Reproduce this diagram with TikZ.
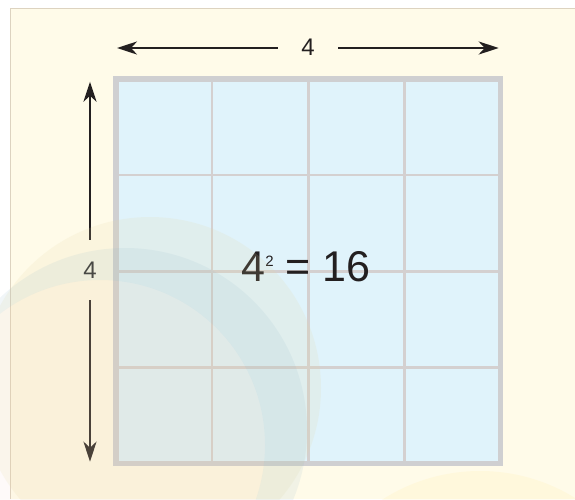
\documentclass[tikz,border=0pt]{standalone}
\usepackage{fontspec}
\setmainfont{Liberation Sans}
\usetikzlibrary{positioning}
\usetikzlibrary{arrows.meta}
\definecolor{cream}{HTML}{FFFBE9}
\definecolor{edge}{HTML}{DDD3C0}
\definecolor{cellblue}{HTML}{E0F3FB}
\definecolor{framegray}{HTML}{CFCFD1}
\definecolor{linegray}{HTML}{D4D0D0}
\definecolor{ink}{HTML}{231F20}
\definecolor{wmyellow}{HTML}{E5D8A0}
\definecolor{wmblue}{HTML}{8FB8CC}
\definecolor{wmpink}{HTML}{F0B8A8}
\definecolor{wmsun}{HTML}{FFE680}

\begin{document}
\begin{tikzpicture}[x=1pt, y=-1pt,
    dimhalf/.style={line width=2.6pt, draw=ink, -{Stealth[length=20pt, width=13pt, inset=6pt]}},
    dimlabel/.style={inner sep=0pt, minimum width=60pt, minimum height=60pt, text=ink, font=\fontsize{24}{28}\selectfont},
    gridline/.style={line width=2.5pt, draw=linegray},
    frame/.style={line width=5.8pt, draw=framegray}]

    \useasboundingbox (0,0) rectangle (575,499);

    % Page background
    \fill[white] (0,0) rectangle (575,499);
    \fill[cream] (10.5,8.5) rectangle (575,499);
    \draw[edge, line width=1.5pt] (10.5,499) -- (10.5,8.5) -- (575,8.5);

    % 4 x 4 square
    \fill[cellblue] (116,79) rectangle (500.5,463.5);
    \foreach \i in {1,2,3} {
        \draw[gridline] ({116+96.125*\i},79) -- ({116+96.125*\i},463.5);
        \draw[gridline] (116,{79+96.125*\i}) -- (500.5,{79+96.125*\i});
    }
    \draw[frame] (116,79) rectangle (500.5,463.5);
    \node[text=ink, anchor=base, font=\fontsize{43}{48}\selectfont] (area) at (306,281.7)
        {4\raisebox{15.5pt}{\fontsize{15}{15}\selectfont 2} = 16};

    % Width arrow
    \node[dimlabel] (top4) at (308,47.5) {4};
    \coordinate (tl) at (117,48);
    \coordinate (tr) at (498.7,48);
    \draw[dimhalf] (top4.west |- tl) -- (tl);
    \draw[dimhalf] (top4.east |- tr) -- (tr);

    % Height arrow
    \node[dimlabel] (left4) at (90,270) {4};
    \coordinate (lt) at (90,81.7);
    \coordinate (lb) at (90,461.7);
    \draw[dimhalf] (left4) -- (lt);
    \draw[dimhalf] (left4) -- (lb);

    % Faint watermark
    \fill[wmyellow, opacity=0.15] (150,388) circle[radius=171pt];
    \fill[wmblue, opacity=0.12, even odd rule] (125,430) circle[radius=182pt] (100,445) circle[radius=165pt];
    \fill[wmpink, opacity=0.06] (100,445) circle[radius=165pt];
    \fill[wmsun, opacity=0.12] (480,652) circle[radius=181pt];
\end{tikzpicture}
\end{document}
